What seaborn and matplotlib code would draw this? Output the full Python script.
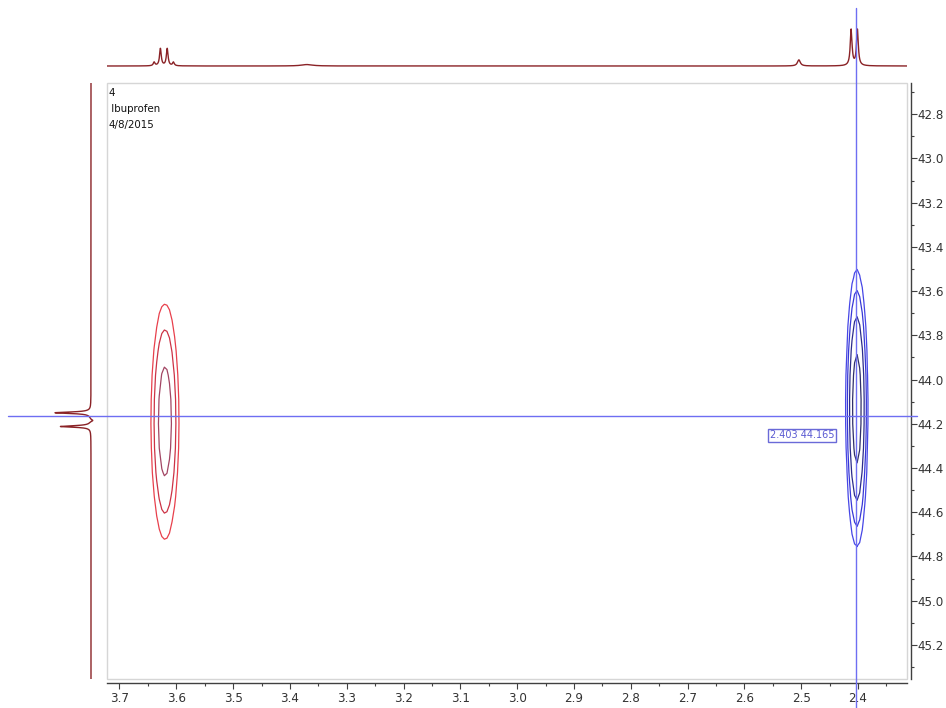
import numpy as np
import pandas as pd
import matplotlib
matplotlib.use("Agg")
import matplotlib.pyplot as plt
import seaborn as sns
from matplotlib.patches import Rectangle
from matplotlib.lines import Line2D
from matplotlib.transforms import blended_transform_factory
from matplotlib.ticker import MultipleLocator, FormatStrFormatter

# ---- 1H projection: peak list (ppm, relative height, half width at half height) ----
h_shift = [3.639, 3.628, 3.616, 3.605, 3.370, 2.504, 2.412, 2.401]
h_height = [0.10, 0.48, 0.48, 0.10, 0.04, 0.17, 1.00, 1.00]
h_hwhm = [0.0018, 0.0018, 0.0018, 0.0018, 0.012, 0.003, 0.0019, 0.0019]

# ---- 13C projection: peak list ----
c_shift = [44.150, 44.185, 44.212]
c_height = [1.00, -0.08, 0.85]
c_hwhm = [0.004, 0.005, 0.004]

# ---- HSQC cross peaks (1H ppm, 13C ppm, amplitude, widths) ----
xpk_h = [3.620, 2.402]
xpk_c = [44.189, 44.132]
xpk_amp = [5.9, -11.8]
xpk_sig_h = [0.0130, 0.0087]
xpk_sig_c = [0.280, 0.280]

levels_pos = [1, 2, 4]
levels_neg = [-8, -4, -2, -1]
colors_pos = ["#e8404c", "#cc3346", "#a24563"]
colors_neg = ["#2f2f6a", "#2c2c8c", "#3838d6", "#4646e6"]

cursor_h = 2.403
cursor_c = 44.165

info_lines = ["4", " Ibuprofen", "4/8/2015"]
x_ticks = [3.7, 3.6, 3.5, 3.4, 3.3, 3.2, 3.1, 3.0, 2.9, 2.8, 2.7, 2.6, 2.5, 2.4]
y_ticks = [42.8, 43.0, 43.2, 43.4, 43.6, 43.8, 44.0, 44.2, 44.4, 44.6, 44.8, 45.0, 45.2]

x_lim = (3.722, 2.3137)
y_lim = (45.354, 42.659)

spec_color = "#8a2226"
cursor_color = "#6e6ef2"
axis_color = "#404040"
label_color = "#333333"
frame_color = "#d6d6d6"

sns.set_theme(style="white")
plt.rcParams["font.family"] = ["DejaVu Sans"]

W, H = 946, 708
fig = plt.figure(figsize=(W / 100, H / 100), dpi=100)


def fbox(left, top, right, bottom):
    return [left / W, (H - bottom) / H, (right - left) / W, (bottom - top) / H]


def lorentz(x, centers, heights, hwhm):
    y = np.zeros_like(x)
    for c, h, w in zip(centers, heights, hwhm):
        y += h / (1.0 + ((x - c) / w) ** 2)
    return y


# ---- main 2D panel ----
ax = fig.add_axes(fbox(107, 83, 907, 679))
ax.set_xlim(*x_lim)
ax.set_ylim(*y_lim)

# spectrum sampled on a coarse grid, as acquired
gh = np.arange(2.28, 3.76, 0.0045)
gc = np.arange(42.55, 45.45, 0.11)
GH, GC = np.meshgrid(gh, gc)
Z = np.zeros_like(GH)
for h0, c0, a, sh, sc in zip(xpk_h, xpk_c, xpk_amp, xpk_sig_h, xpk_sig_c):
    Z += a * np.exp(-0.5 * ((GH - h0) / sh) ** 2 - 0.5 * ((GC - c0) / sc) ** 2)
ax.contour(GH, GC, Z, levels=levels_neg, colors=colors_neg, linewidths=0.9)
ax.contour(GH, GC, Z, levels=levels_pos, colors=colors_pos, linewidths=0.9)

ax.set_xticks(x_ticks)
ax.xaxis.set_minor_locator(MultipleLocator(0.05))
ax.xaxis.set_major_formatter(FormatStrFormatter("%.1f"))
ax.yaxis.tick_right()
ax.set_yticks(y_ticks)
ax.yaxis.set_minor_locator(MultipleLocator(0.1))
ax.yaxis.set_major_formatter(FormatStrFormatter("%.1f"))
ax.set_xlabel("")
ax.set_ylabel("")

for side in ("top", "left"):
    ax.spines[side].set_visible(False)
for side in ("bottom", "right"):
    ax.spines[side].set_visible(True)
    ax.spines[side].set_position(("outward", 3))
    ax.spines[side].set_color(axis_color)
    ax.spines[side].set_linewidth(1.0)
ax.add_patch(Rectangle((0, 0), 1, 1, transform=ax.transAxes, fill=False,
                       ec=frame_color, lw=1.0, clip_on=False, zorder=0.5))

ax.tick_params(which="both", direction="out", color=axis_color, width=0.8,
               labelcolor=label_color, labelsize=8.6,
               bottom=True, right=True, left=False, top=False)
ax.tick_params(axis="x", pad=2.5)
ax.tick_params(axis="y", pad=0.5)
ax.tick_params(which="major", length=4)
ax.tick_params(which="minor", length=2.5)

for i, line in enumerate(info_lines):
    ax.annotate(line, xy=(0, 1), xycoords="axes fraction",
                xytext=(1, -10 - 16 * i), textcoords="offset pixels",
                ha="left", va="center", fontsize=7.4, color="#111111")

ax.annotate(f"{cursor_h:.3f} {cursor_c:.3f}", xy=(cursor_h, cursor_c), xycoords="data",
            xytext=(-22, -19), textcoords="offset pixels", ha="right", va="center",
            fontsize=7.0, color="#5a5ad2",
            bbox=dict(boxstyle="square,pad=0.15", fc="white", ec="#6a6ad8", lw=1.0),
            zorder=6)

# ---- 1H projection on top ----
ax_top = fig.add_axes(fbox(107, 20, 907, 75))
ppm_h = np.linspace(x_lim[0], x_lim[1], 5000)
df_top = pd.DataFrame({"ppm": ppm_h, "intensity": lorentz(ppm_h, h_shift, h_height, h_hwhm)})
sns.lineplot(data=df_top, x="ppm", y="intensity", ax=ax_top, color=spec_color,
             lw=1.0, estimator=None)
ax_top.set_xlim(*x_lim)
ax_top.set_ylim(-0.25, 46 / 36)
ax_top.axis("off")

# ---- 13C projection on the left ----
ax_left = fig.add_axes(fbox(40, 83, 100, 679))
ppm_c = np.linspace(y_lim[1], y_lim[0], 5000)
df_left = pd.DataFrame({"ppm": ppm_c, "intensity": lorentz(ppm_c, c_shift, c_height, c_hwhm)})
sns.lineplot(data=df_left, x="intensity", y="ppm", ax=ax_left, color=spec_color,
             lw=1.0, estimator=None, orient="y")
ax_left.set_ylim(*y_lim)
ax_left.set_xlim(51 / 36, -9 / 36)
ax_left.axis("off")

# ---- cursor cross-hair spanning the whole figure ----
vtrans = blended_transform_factory(ax.transData, fig.transFigure)
fig.add_artist(Line2D([cursor_h, cursor_h], [0, (H - 8) / H], transform=vtrans,
                      color=cursor_color, lw=1.0, zorder=5))
htrans = blended_transform_factory(fig.transFigure, ax.transData)
fig.add_artist(Line2D([8 / W, 917 / W], [cursor_c, cursor_c], transform=htrans,
                      color=cursor_color, lw=1.0, zorder=5))

fig.savefig("out.png", dpi=100, facecolor="white")
